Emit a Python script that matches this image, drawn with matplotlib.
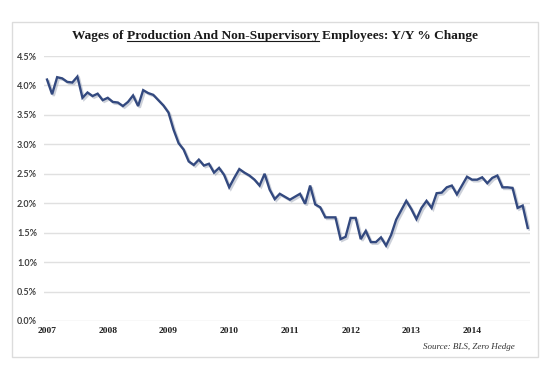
import matplotlib
matplotlib.use("Agg")
import matplotlib.pyplot as plt
import matplotlib.patheffects as pe
from matplotlib.lines import Line2D
from matplotlib.patches import Rectangle

# monthly Y/Y % change, Jan 2007 - Dec 2014
wages_2007 = [4.10, 3.85, 4.14, 4.12, 4.06, 4.05, 4.15, 3.79, 3.88, 3.82, 3.86, 3.75]
wages_2008 = [3.79, 3.72, 3.71, 3.65, 3.72, 3.83, 3.65, 3.92, 3.87, 3.84, 3.75, 3.66]
wages_2009 = [3.54, 3.25, 3.02, 2.91, 2.71, 2.65, 2.74, 2.64, 2.67, 2.52, 2.60, 2.48]
wages_2010 = [2.27, 2.43, 2.58, 2.52, 2.47, 2.40, 2.30, 2.50, 2.23, 2.07, 2.16, 2.11]
wages_2011 = [2.06, 2.11, 2.16, 1.99, 2.30, 1.98, 1.93, 1.76, 1.76, 1.76, 1.39, 1.43]
wages_2012 = [1.75, 1.75, 1.39, 1.53, 1.34, 1.34, 1.42, 1.28, 1.46, 1.72, 1.88, 2.04]
wages_2013 = [1.90, 1.73, 1.92, 2.04, 1.92, 2.17, 2.18, 2.27, 2.30, 2.15, 2.30, 2.45]
wages_2014 = [2.40, 2.40, 2.44, 2.34, 2.43, 2.47, 2.27, 2.27, 2.26, 1.92, 1.96, 1.58]
years = ["2007", "2008", "2009", "2010", "2011", "2012", "2013", "2014"]
y_ticks = [0.0, 0.5, 1.0, 1.5, 2.0, 2.5, 3.0, 3.5, 4.0, 4.5]

wages = (wages_2007 + wages_2008 + wages_2009 + wages_2010 +
         wages_2011 + wages_2012 + wages_2013 + wages_2014)
months = list(range(len(wages)))

W, H = 550, 372
fig = plt.figure(figsize=(W / 100, H / 100), dpi=100)
fig.patch.set_facecolor("white")

# light frame around the chart
fig.patches.append(Rectangle((12 / W, 1 - 357 / H), 526 / W, 335 / H,
                             transform=fig.transFigure, fill=False,
                             edgecolor="#dcdcdc", lw=1.0))

ax = fig.add_axes([44 / W, 1 - 321 / H, 486 / W, 265 / H])
ax.plot(months, wages, color="#33497f", lw=1.7, solid_joinstyle="miter",
        path_effects=[pe.SimpleLineShadow(offset=(1.2, -1.2), shadow_color="#9aa3b5", alpha=0.5),
                      pe.Normal()], zorder=3)

ax.set_ylim(0, 4.5)
ax.set_xlim(-0.6, 95.45)
ax.set_yticks(y_ticks)
ax.set_yticklabels(["%.1f%%" % v for v in y_ticks], fontsize=6.5, color="#404040",
                   fontweight="bold", family="Lato")
ax.set_xticks([12 * k for k in range(len(years))])
ax.set_xticklabels(years, fontsize=6.8, fontweight="bold", family="Liberation Serif",
                   color="#202020")
ax.tick_params(axis="both", length=0)
ax.tick_params(axis="y", pad=5)
ax.tick_params(axis="x", pad=4)
ax.grid(axis="y", color="#e0e0e0", lw=1.0)
ax.set_axisbelow(True)
for s in ax.spines.values():
    s.set_visible(False)

# title with underlined middle part
renderer = fig.canvas.get_renderer()
tkw = dict(fontsize=9.6, fontweight="bold", family="Liberation Serif", color="#1a1a1a",
           va="baseline", ha="left", transform=None)
parts = ["Wages of", "Production And Non-Supervisory", "Employees: Y/Y % Change"]
base_y = H - 39
texts = [fig.text(0, base_y, p, **tkw) for p in parts]
widths = [t.get_window_extent(renderer).width for t in texts]
probe_a = fig.text(0, 0, "xx", **tkw)
probe_b = fig.text(0, 0, "x x", **tkw)
space = probe_b.get_window_extent(renderer).width - probe_a.get_window_extent(renderer).width
probe_a.remove()
probe_b.remove()
total = sum(widths) + 2 * space
x = W / 2 - total / 2
starts = []
for t, w in zip(texts, widths):
    t.set_x(x)
    starts.append(x)
    x += w + space
ul_y = base_y - 2
fig.add_artist(Line2D([starts[1], starts[1] + widths[1]], [ul_y, ul_y],
                      transform=None, color="#1a1a1a", lw=0.8))

fig.text(515 / W, 1 - 347 / H, "Source: BLS, Zero Hedge", fontsize=6.5, style="italic",
         family="Liberation Serif", color="#333333", ha="right", va="center")

fig.savefig("out.png", dpi=100)
